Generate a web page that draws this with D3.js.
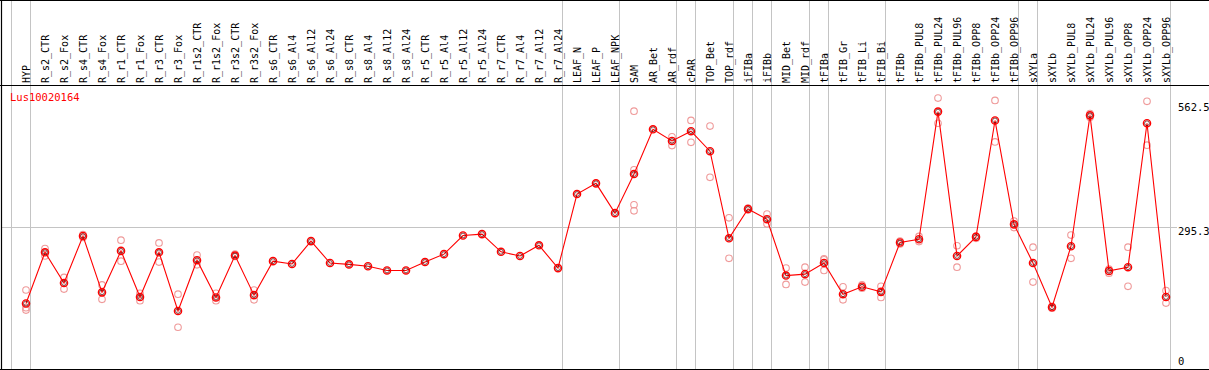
<!DOCTYPE html>
<html>
<head>
<meta charset="utf-8">
<script src="https://cdn.jsdelivr.net/npm/d3@7"></script>
<style>
  body { margin: 0; background: #fff; }
  svg { display: block; }
  text { font-family: "DejaVu Sans Mono", monospace; }
</style>
</head>
<body>
<svg></svg>
<script>
var labels = ["HYP", "R_s2_CTR", "R_s2_Fox", "R_s4_CTR", "R_s4_Fox", "R_r1_CTR", "R_r1_Fox",
  "R_r3_CTR", "R_r3_Fox", "R_r1s2_CTR", "R_r1s2_Fox", "R_r3s2_CTR", "R_r3s2_Fox",
  "R_s6_CTR", "R_s6_Al4", "R_s6_Al12", "R_s6_Al24", "R_s8_CTR", "R_s8_Al4", "R_s8_Al12", "R_s8_Al24",
  "R_r5_CTR", "R_r5_Al4", "R_r5_Al12", "R_r5_Al24", "R_r7_CTR", "R_r7_Al4", "R_r7_Al12", "R_r7_Al24",
  "LEAF_N", "LEAF_P", "LEAF_NPK", "SAM", "AR_Bet", "AR_rdf", "cPAR", "TOP_Bet", "TOP_rdf",
  "iFIBa", "iFIBb", "MID_Bet", "MID_rdf", "tFIBa", "tFIB_Gr", "tFIB_Li", "tFIB_Bi", "tFIBb",
  "tFIBb_PUL8", "tFIBb_PUL24", "tFIBb_PUL96", "tFIBb_OPP8", "tFIBb_OPP24", "tFIBb_OPP96",
  "sXYLa", "sXYLb", "sXYLb_PUL8", "sXYLb_PUL24", "sXYLb_PUL96", "sXYLb_OPP8", "sXYLb_OPP24", "sXYLb_OPP96"]

var means = [132, 242, 176, 277, 156, 245, 146, 242, 116, 225, 145, 235, 150,
  223, 217, 266, 219, 216, 212, 203, 203, 221, 238, 278, 281, 243, 234, 257, 208,
  367, 390, 326, 410, 506, 481, 502, 459, 272, 335, 313, 192, 195, 219, 152, 168, 157, 263,
  270, 544, 234, 275, 525, 302, 219, 124, 255, 536, 202, 210, 519, 146]

var replicates = [[161, 123, 118], [250, 234], [188, 163], [274, 280], [172, 141], [268, 223], [154, 138],
  [262, 221], [152, 81], [236, 215], [154, 138], [233, 238], [161, 140],
  [], [], [], [], [], [], [], [], [], [], [], [], [], [], [], [],
  [], [], [], [545, 419, 344, 331], [], [490, 471], [525, 478], [513, 403], [316, 229], [333, 337], [324, 303],
  [208, 173], [210, 178], [228, 226, 203], [168, 140], [172, 165], [169, 145], [260, 266],
  [265, 276], [573, 519], [256, 210], [272, 277], [568, 479], [309, 295],
  [253, 178], [122, 126], [279, 229], [540, 532], [206, 197], [253, 169], [566, 472], [160, 133]]

var separators = [0, 1, 29, 32, 35, 36, 38, 39, 40, 42, 43, 46, 53, 54, 61]
var yTicks = [0, 295.3, 562.5]
var geneName = "Lus10020164"

var width = 1209
var height = 370
var headerY = 85.5
var bottomY = 369.5

var svg = d3.select("svg").attr("width", width).attr("height", height)

var x = d3.scaleBand().domain(labels).range([16.5, 16.5 + 19 * labels.length])
var y = d3.scaleLinear().domain([0, 562.5]).range([365, 103])

function sepX(k) { return Math.round(x.range()[0] + k * x.step() - 5.5) + 0.5 }
function cx(d) { return x(d) + x.bandwidth() / 2 }

// group separators run through the header too
svg.append("g")
  .selectAll("line")
  .data(separators)
  .enter().append("line")
    .attr("x1", sepX).attr("x2", sepX)
    .attr("y1", 0).attr("y2", bottomY)
    .attr("stroke", "#c4c4c4")

svg.append("line")
  .attr("x1", 1).attr("x2", 1177)
  .attr("y1", Math.round(y(295.3)) + 0.5).attr("y2", Math.round(y(295.3)) + 0.5)
  .attr("stroke", "#c4c4c4")

// frame
svg.append("line").attr("x1", 0).attr("x2", width).attr("y1", 0.5).attr("y2", 0.5).attr("stroke", "#000")
svg.append("line").attr("x1", 0).attr("x2", width).attr("y1", headerY).attr("y2", headerY).attr("stroke", "#000").attr("stroke-width", 1.2)
svg.append("line").attr("x1", 0).attr("x2", width).attr("y1", bottomY).attr("y2", bottomY).attr("stroke", "#000").attr("stroke-width", 1.2)
svg.append("line").attr("x1", 1.5).attr("x2", 1.5).attr("y1", 0).attr("y2", height).attr("stroke", "#000").attr("stroke-width", 1.2)

svg.append("g")
  .selectAll("text")
  .data(labels)
  .enter().append("text")
    .attr("transform", function (d) { return "translate(" + (cx(d) + 4) + ",83) rotate(-90)" })
    .attr("font-size", 10)
    .attr("fill", "#000")
    .text(function (d) { return d })

svg.append("text")
  .attr("x", 10).attr("y", 101)
  .attr("font-size", 10.5)
  .attr("fill", "#ff0000")
  .text(geneName)

svg.append("g")
  .selectAll("text")
  .data(yTicks)
  .enter().append("text")
    .attr("x", 1178)
    .attr("y", function (d) { return d === 0 ? 365 : y(d) + 8 })
    .attr("font-size", 10.5)
    .attr("fill", "#000")
    .text(function (d) { return d })

var reps = []
replicates.forEach(function (vals, i) {
  vals.forEach(function (v) { reps.push({ label: labels[i], value: v }) })
})

svg.append("g")
  .selectAll("circle")
  .data(reps)
  .enter().append("circle")
    .attr("cx", function (d) { return cx(d.label) })
    .attr("cy", function (d) { return y(d.value) })
    .attr("r", 3.3)
    .attr("fill", "none")
    .attr("stroke", "#ef9a9a")
    .attr("stroke-width", 1.1)

var line = d3.line()
  .x(function (d, i) { return cx(labels[i]) })
  .y(function (d) { return y(d) })

svg.append("path")
  .datum(means)
  .attr("d", line)
  .attr("fill", "none")
  .attr("stroke", "#ff0000")
  .attr("stroke-width", 1.1)

var markers = svg.append("g")
  .selectAll("g")
  .data(means)
  .enter().append("g")
    .attr("transform", function (d, i) { return "translate(" + cx(labels[i]) + "," + y(d) + ")" })

markers.append("circle")
  .attr("r", 3.6)
  .attr("fill", "none")
  .attr("stroke", "#ff0000")
  .attr("stroke-width", 1.4)

markers.append("circle")
  .attr("r", 2.4)
  .attr("fill", "none")
  .attr("stroke", "#500000")
  .attr("stroke-width", 0.7)
</script>
</body>
</html>
